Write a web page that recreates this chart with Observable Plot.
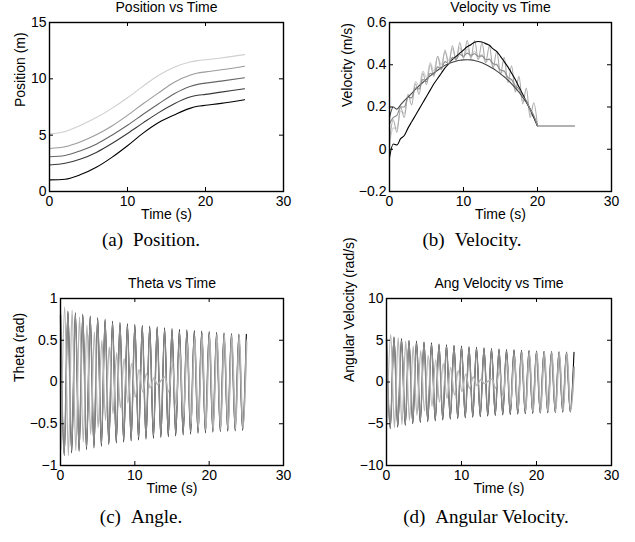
<!DOCTYPE html>
<html><head><meta charset="utf-8">
<script src="https://cdn.jsdelivr.net/npm/d3@7"></script>
<script src="https://cdn.jsdelivr.net/npm/@observablehq/plot@0.6"></script>
<style>
html,body{margin:0;padding:0;background:#fff;}
#root{position:relative;width:635px;height:542px;overflow:hidden;background:#fff;}
.panel{position:absolute;}
.cap{position:absolute;width:300px;text-align:center;font-family:"Liberation Serif","Times New Roman",serif;font-size:19px;line-height:19px;white-space:nowrap;color:#000;}
.cap span.t{margin-left:10px;}
</style></head><body><div id="root"></div>
<script>
// ---------- text ----------
const panelTitles = ["Position vs Time", "Velocity vs Time", "Theta vs Time", "Ang Velocity vs Time"];
const yLabels = ["Position (m)", "Velocity (m/s)", "Theta (rad)", "Angular Velocity (rad/s)"];
const xLabel = "Time (s)";
const captionTags = ["(a)", "(b)", "(c)", "(d)"];
const captionTexts = ["Position.", "Velocity.", "Angle.", "Angular Velocity."];

// ---------- ticks ----------
const xTicks = [0, 10, 20, 30];
const posTicks = [0, 5, 10, 15];
const velTicks = [-0.2, 0, 0.2, 0.4, 0.6];
const thetaTicks = [-1, -0.5, 0, 0.5, 1];
const omegaTicks = [-10, -5, 0, 5, 10];

// ---------- position data ----------
const posT = [0, 2, 4, 6, 8, 10, 12, 14, 16, 18, 19, 20, 22, 25];
const posBlack = [1.03, 1.09, 1.5, 2.15, 3.03, 4.06, 5.18, 6.12, 6.8, 7.38, 7.56, 7.65, 7.82, 8.15];
const posDark  = [2.35, 2.5, 2.88, 3.47, 4.26, 5.15, 6.09, 7.0, 7.79, 8.38, 8.54, 8.62, 8.82, 9.12];
const posMid   = [3.09, 3.2, 3.62, 4.2, 5.0, 5.88, 6.85, 7.79, 8.68, 9.32, 9.51, 9.62, 9.8, 10.09];
const posLight = [3.82, 3.97, 4.41, 5.03, 5.82, 6.76, 7.79, 8.76, 9.7, 10.32, 10.51, 10.62, 10.8, 11.12];
const posPale  = [5.09, 5.32, 5.88, 6.56, 7.38, 8.32, 9.35, 10.32, 11.03, 11.5, 11.62, 11.7, 11.85, 12.15];

// ---------- velocity data (t = 0..20 s), then a common flat tail ----------
const velT = [0,0.5,1,1.5,2,2.5,3,3.5,4,4.5,5,5.5,6,6.5,7,7.5,8,8.5,9,9.5,10,10.5,11,11.5,12,12.5,13,13.5,14,14.5,15,15.5,16,16.5,17,17.5,18,18.5,19,19.5,20];
const velBlack = [-0.04,0.025,0.02,0.05,0.065,0.1,0.13,0.16,0.19,0.22,
  0.25,0.28,0.31,0.335,0.36,0.385,0.405,0.425,0.44,0.455,
  0.47,0.485,0.495,0.507,0.51,0.508,0.5,0.492,0.475,0.462,
  0.44,0.415,0.39,0.36,0.33,0.295,0.26,0.225,0.19,0.15,
  0.11];
const velDark = [0.15,0.2,0.19,0.21,0.23,0.247,0.265,0.283,0.3,0.316,
  0.332,0.347,0.361,0.374,0.386,0.397,0.405,0.412,0.417,0.421,
  0.423,0.424,0.423,0.42,0.415,0.409,0.401,0.392,0.382,0.37,
  0.357,0.343,0.327,0.31,0.291,0.27,0.247,0.221,0.192,0.155,
  0.11];
const velMid = [0.12,0.15,0.16,0.2,0.2,0.245,0.245,0.29,0.285,0.33,
  0.32,0.36,0.355,0.39,0.38,0.415,0.405,0.435,0.425,0.45,
  0.44,0.455,0.445,0.452,0.44,0.442,0.425,0.425,0.405,0.4,
  0.375,0.37,0.34,0.33,0.3,0.285,0.25,0.23,0.19,0.16,
  0.11];
const velLight = [0.04,0.14,0.08,0.2,0.15,0.26,0.21,0.31,0.26,0.36,
  0.305,0.4,0.345,0.44,0.375,0.47,0.4,0.49,0.42,0.505,
  0.43,0.515,0.43,0.515,0.425,0.505,0.41,0.49,0.385,0.465,
  0.355,0.435,0.315,0.395,0.27,0.345,0.215,0.29,0.15,0.22,
  0.11];
const velPale = [0.02,0.1,0.1,0.18,0.17,0.25,0.24,0.32,0.3,0.37,
  0.34,0.41,0.37,0.44,0.4,0.46,0.42,0.475,0.43,0.48,
  0.435,0.475,0.435,0.465,0.425,0.45,0.41,0.43,0.39,0.405,
  0.36,0.37,0.325,0.33,0.28,0.285,0.23,0.23,0.175,0.15,
  0.11];
const velTailT = [20, 25];
const velTail = [0.11, 0.11];

// ---------- oscillation data (extremes every half period) ----------
const oscT = [0,0.5,1,1.5,2,2.5,3,3.5,4,4.5,5,5.5,6,6.5,7,7.5,8,8.5,9,9.5,10,10.5,11,11.5,12,12.5,13,13.5,14,14.5,15,15.5,16,16.5,17,17.5,18,18.5,19,19.5,20,20.5,21,21.5,22,22.5,23,23.5,24,24.5,25];
const oscLag = [0, 0, 0.06]; // black, dark, light phase lag (s)
const thetaBlack = [0.86,-0.88,0.85,-0.85,0.83,-0.83,0.81,-0.81,0.79,-0.79,
  0.77,-0.77,0.75,-0.75,0.73,-0.73,0.715,-0.72,0.70,-0.705,
  0.69,-0.695,0.68,-0.685,0.67,-0.675,0.66,-0.665,0.65,-0.655,
  0.64,-0.645,0.63,-0.635,0.625,-0.625,0.615,-0.615,0.61,-0.61,
  0.605,-0.6,0.595,-0.595,0.59,-0.59,0.58,-0.585,0.575,-0.58,
  0.57];
const thetaDark = [0.8,-0.85,0.83,-0.82,0.81,-0.8,0.79,-0.78,0.77,-0.76,
  0.75,-0.74,0.73,-0.72,0.705,-0.7,0.69,-0.69,0.675,-0.675,
  0.665,-0.665,0.655,-0.655,0.645,-0.645,0.635,-0.635,0.625,-0.625,
  0.615,-0.615,0.605,-0.605,0.6,-0.6,0.59,-0.59,0.585,-0.585,
  0.58,-0.575,0.575,-0.57,0.565,-0.565,0.56,-0.56,0.555,-0.555,
  0.5];
const thetaLight = [-0.8,0.9,-0.88,0.86,-0.82,0.78,-0.72,0.68,-0.63,0.6,
  -0.55,0.5,-0.46,0.42,-0.38,0.35,-0.31,0.28,-0.25,0.22,
  -0.18,0.15,-0.12,0.1,-0.07,0.05,-0.03,0.02,0.06,-0.12,
  0.2,-0.28,0.36,-0.42,0.47,-0.5,0.53,-0.55,0.56,-0.565,
  0.57,-0.57,0.57,-0.57,0.565,-0.565,0.56,-0.56,0.555,-0.56,
  0.48];
const omegaBlack = [5.3,-5.6,5.4,-5.4,5.2,-5.2,5.0,-5.0,4.9,-4.85,
  4.8,-4.75,4.7,-4.65,4.55,-4.55,4.45,-4.45,4.4,-4.38,
  4.3,-4.3,4.22,-4.22,4.15,-4.15,4.1,-4.08,4.02,-4.0,
  3.96,-3.95,3.9,-3.9,3.85,-3.84,3.8,-3.8,3.76,-3.76,
  3.72,-3.72,3.69,-3.68,3.65,-3.65,3.62,-3.62,3.6,-3.6,
  3.57];
const omegaDark = [5.0,-5.4,5.2,-5.2,5.0,-5.0,4.85,-4.8,4.7,-4.65,
  4.6,-4.55,4.5,-4.45,4.35,-4.35,4.27,-4.27,4.2,-4.2,
  4.12,-4.12,4.05,-4.05,3.98,-3.98,3.92,-3.92,3.86,-3.85,
  3.8,-3.8,3.75,-3.75,3.7,-3.7,3.66,-3.66,3.62,-3.62,
  3.58,-3.58,3.55,-3.55,3.52,-3.52,3.49,-3.49,3.47,-3.47,
  1.8];
const omegaLight = [-5.0,5.7,-5.5,5.3,-5.1,4.9,-4.6,4.3,-4.0,3.75,
  -3.45,3.2,-2.9,2.65,-2.4,2.2,-1.95,1.75,-1.55,1.35,
  -1.15,0.95,-0.75,0.6,-0.45,0.3,-0.2,0.1,0.35,-0.75,
  1.25,-1.75,2.25,-2.7,3.0,-3.25,3.4,-3.5,3.55,-3.58,
  3.6,-3.6,3.58,-3.58,3.55,-3.55,3.52,-3.52,3.5,-3.5,
  1.7];

// ---------- helpers ----------
const rows = (T, V, lag = 0) => V.map((v, i) => ({t: T[i] + lag, v}));
const fmt = d => (d < 0 ? "\u2212" : "") + Math.abs(d);
const root = document.getElementById("root");

function makePanel(cfg) {
  const {box, frame, yDomain, yTicks, title, yLabel, yLabelDx, lines, curve} = cfg;
  const pw = frame.right - frame.left, ph = frame.bottom - frame.top;
  const marks = lines.map(L => Plot.line(L.data, {x: "t", y: "v", stroke: L.color, strokeWidth: L.width, curve}));
  marks.push(
    Plot.frame({stroke: "#000", strokeWidth: 1.4}),
    Plot.tickX(xTicks, {x: d => d, insetTop: ph - 4, stroke: "#000"}),
    Plot.tickX(xTicks, {x: d => d, insetBottom: ph - 4, stroke: "#000"}),
    Plot.tickY(yTicks, {y: d => d, insetRight: pw - 4, stroke: "#000"}),
    Plot.tickY(yTicks, {y: d => d, insetLeft: pw - 4, stroke: "#000"}),
    Plot.axisX(xTicks, {tickSize: 0, tickPadding: 5, tickFormat: fmt, label: null, fill: "#000"}),
    Plot.axisY(yTicks, {tickSize: 0, tickPadding: 3, tickFormat: fmt, label: null, fill: "#000"}),
    Plot.text([title], {text: d => d, frameAnchor: "top", lineAnchor: "bottom", dy: -11, fill: "#000"}),
    Plot.text([xLabel], {text: d => d, frameAnchor: "bottom", lineAnchor: "middle", dy: 23, fill: "#000"}),
    Plot.text([yLabel], {text: d => d, frameAnchor: "left", lineAnchor: "middle", rotate: -90, dx: yLabelDx, fill: "#000"})
  );
  const svg = Plot.plot({
    width: box.w, height: box.h,
    marginLeft: frame.left - box.x, marginRight: box.x + box.w - frame.right,
    marginTop: frame.top - box.y, marginBottom: box.y + box.h - frame.bottom,
    x: {domain: [0, 30]}, y: {domain: yDomain},
    style: {fontFamily: "'Liberation Sans', Arial, Helvetica, sans-serif", fontSize: "14px", background: "transparent", color: "#000", overflow: "visible"},
    marks
  });
  const div = document.createElement("div");
  div.className = "panel";
  div.style.left = box.x + "px"; div.style.top = box.y + "px";
  div.style.width = box.w + "px"; div.style.height = box.h + "px";
  div.appendChild(svg);
  root.appendChild(div);
}

function makeCaption(i, cx, top) {
  const d = document.createElement("div");
  d.className = "cap";
  d.style.left = (cx - 150) + "px"; d.style.top = top + "px";
  const a = document.createElement("span"); a.textContent = captionTags[i];
  const b = document.createElement("span"); b.className = "t"; b.textContent = captionTexts[i];
  d.appendChild(a); d.appendChild(b);
  root.appendChild(d);
}

// (a) Position
makePanel({
  box: {x: 0, y: 0, w: 317, h: 230}, frame: {left: 49, top: 22, right: 283, bottom: 191},
  yDomain: [0, 15], yTicks: posTicks, title: panelTitles[0], yLabel: yLabels[0], yLabelDx: -29, curve: "monotone-x",
  lines: [
    {data: rows(posT, posPale), color: "#cfcfcf", width: 1.1},
    {data: rows(posT, posLight), color: "#9a9a9a", width: 1.1},
    {data: rows(posT, posMid), color: "#666", width: 1.1},
    {data: rows(posT, posDark), color: "#383838", width: 1.1},
    {data: rows(posT, posBlack), color: "#000", width: 1.1}
  ]
});
// (b) Velocity
makePanel({
  box: {x: 317, y: 0, w: 318, h: 230}, frame: {left: 389, top: 22, right: 611, bottom: 191},
  yDomain: [-0.2, 0.6], yTicks: velTicks, title: panelTitles[1], yLabel: yLabels[1], yLabelDx: -41.5, curve: "monotone-x",
  lines: [
    {data: rows(velT, velPale), color: "#cdcdcd", width: 1.1},
    {data: rows(velT, velLight), color: "#ababab", width: 1.1},
    {data: rows(velT, velBlack), color: "#000", width: 1.1},
    {data: rows(velT, velDark), color: "#444", width: 1.1},
    {data: rows(velT, velMid), color: "#8c8c8c", width: 1.1},
    {data: rows(velTailT, velTail), color: "#999", width: 1.3}
  ]
});
// (c) Theta
makePanel({
  box: {x: 0, y: 268, w: 317, h: 230}, frame: {left: 60, top: 298, right: 283, bottom: 465},
  yDomain: [-1, 1], yTicks: thetaTicks, title: panelTitles[2], yLabel: yLabels[2], yLabelDx: -41, curve: "monotone-x",
  lines: [
    {data: rows(oscT, thetaBlack, oscLag[0]), color: "#000", width: 1.1},
    {data: rows(oscT, thetaDark, oscLag[1]), color: "#8a8a8a", width: 1.5},
    {data: rows(oscT, thetaLight, oscLag[2]), color: "#b4b4b4", width: 1.3}
  ]
});
// (d) Angular velocity
makePanel({
  box: {x: 317, y: 268, w: 318, h: 230}, frame: {left: 386, top: 298, right: 611, bottom: 465},
  yDomain: [-10, 10], yTicks: omegaTicks, title: panelTitles[3], yLabel: yLabels[3], yLabelDx: -37, curve: "monotone-x",
  lines: [
    {data: rows(oscT, omegaBlack, oscLag[0]), color: "#000", width: 1.1},
    {data: rows(oscT, omegaDark, oscLag[1]), color: "#8a8a8a", width: 1.5},
    {data: rows(oscT, omegaLight, oscLag[2]), color: "#b4b4b4", width: 1.3}
  ]
});

makeCaption(0, 151, 230);
makeCaption(1, 472, 230);
makeCaption(2, 141, 507);
makeCaption(3, 486, 507);
</script></body></html>
